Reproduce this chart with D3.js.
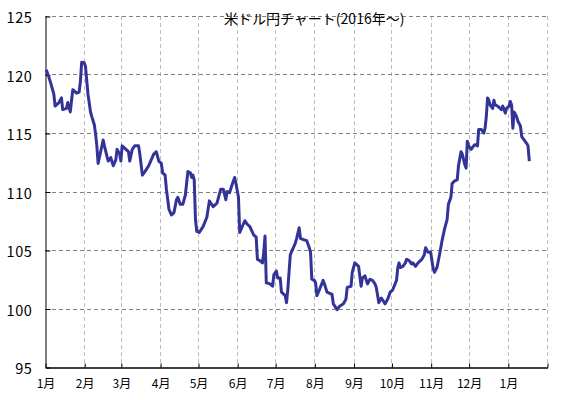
<!DOCTYPE html>
<html>
<head>
<meta charset="utf-8">
<script src="https://cdn.jsdelivr.net/npm/d3@7"></script>
<style>
  html, body { margin: 0; padding: 0; background: #fff; }
  svg { display: block; }
  text { font-family: "Noto Sans CJK JP", "DejaVu Sans", sans-serif; fill: #000; }
</style>
</head>
<body>
<svg id="chart" width="567" height="400"></svg>
<script>
// ---- data ----
const title = "米ドル円チャート(2016年～)";
const dates = [
  "2016-01-02","2016-01-04","2016-01-06","2016-01-08","2016-01-09","2016-01-12","2016-01-14","2016-01-15","2016-01-18","2016-01-19",
  "2016-01-21","2016-01-22","2016-01-23","2016-01-26","2016-01-28","2016-01-29","2016-01-30","2016-02-01","2016-02-02","2016-02-03",
  "2016-02-04","2016-02-06","2016-02-07","2016-02-09","2016-02-10","2016-02-11","2016-02-12","2016-02-14","2016-02-16","2016-02-17",
  "2016-02-19","2016-02-20","2016-02-22","2016-02-24","2016-02-26","2016-02-27","2016-02-29","2016-03-01","2016-03-02","2016-03-05",
  "2016-03-07","2016-03-08","2016-03-10","2016-03-12","2016-03-15","2016-03-16","2016-03-18","2016-03-20","2016-03-23","2016-03-25",
  "2016-03-27","2016-03-29","2016-03-31","2016-04-02","2016-04-03","2016-04-05","2016-04-06","2016-04-08","2016-04-10","2016-04-12",
  "2016-04-14","2016-04-15","2016-04-17","2016-04-19","2016-04-21","2016-04-23","2016-04-25","2016-04-26","2016-04-27","2016-04-28",
  "2016-04-29","2016-04-30","2016-05-02","2016-05-05","2016-05-08","2016-05-10","2016-05-13","2016-05-16","2016-05-19","2016-05-21",
  "2016-05-23","2016-05-24","2016-05-26","2016-05-28","2016-05-30","2016-05-31","2016-06-02","2016-06-03","2016-06-07","2016-06-09",
  "2016-06-11","2016-06-14","2016-06-16","2016-06-17","2016-06-19","2016-06-21","2016-06-22","2016-06-23","2016-06-24","2016-06-27",
  "2016-06-29","2016-06-30","2016-07-02","2016-07-03","2016-07-05","2016-07-06","2016-07-09","2016-07-10","2016-07-11","2016-07-13",
  "2016-07-15","2016-07-17","2016-07-18","2016-07-20","2016-07-21","2016-07-23","2016-07-26","2016-07-28","2016-07-29","2016-07-30",
  "2016-08-01","2016-08-02","2016-08-03","2016-08-05","2016-08-08","2016-08-09","2016-08-11","2016-08-15","2016-08-16","2016-08-19",
  "2016-08-21","2016-08-24","2016-08-26","2016-08-27","2016-08-30","2016-08-31","2016-09-02","2016-09-05","2016-09-07","2016-09-08",
  "2016-09-10","2016-09-12","2016-09-14","2016-09-16","2016-09-18","2016-09-19","2016-09-21","2016-09-23","2016-09-26","2016-09-28",
  "2016-09-30","2016-10-02","2016-10-05","2016-10-06","2016-10-07","2016-10-08","2016-10-10","2016-10-12","2016-10-13","2016-10-15",
  "2016-10-17","2016-10-18","2016-10-20","2016-10-22","2016-10-25","2016-10-27","2016-10-28","2016-10-30","2016-11-01","2016-11-03",
  "2016-11-04","2016-11-06","2016-11-08","2016-11-10","2016-11-12","2016-11-14","2016-11-15","2016-11-17","2016-11-18","2016-11-20",
  "2016-11-22","2016-11-23","2016-11-25","2016-11-26","2016-11-28","2016-11-29","2016-11-30","2016-12-01","2016-12-03","2016-12-05",
  "2016-12-06","2016-12-08","2016-12-09","2016-12-11","2016-12-13","2016-12-14","2016-12-15","2016-12-16","2016-12-17","2016-12-18",
  "2016-12-20","2016-12-21","2016-12-22","2016-12-24","2016-12-27","2016-12-28","2016-12-30","2016-12-31","2017-01-02","2017-01-03",
  "2017-01-04","2017-01-05","2017-01-06","2017-01-08","2017-01-09","2017-01-11","2017-01-12","2017-01-14","2017-01-16","2017-01-17",
  "2017-01-18"
];
const rates = [
  120.4,119.8,119.1,118.3,117.3,117.6,118.0,117.0,117.1,117.6,
  116.8,117.8,118.7,118.4,118.5,119.4,121.05,121.0,120.7,119.5,
  118.3,116.8,116.4,115.7,114.9,113.9,112.4,113.4,114.4,113.9,
  113.0,112.6,112.9,112.2,112.7,113.6,113.2,112.6,113.9,113.6,
  113.4,112.6,113.6,113.9,113.9,113.2,111.4,111.7,112.2,112.7,
  113.2,113.4,112.6,112.4,111.6,111.4,110.2,108.5,108.0,108.2,
  109.3,109.5,108.9,108.9,109.7,111.7,111.6,111.2,111.4,111.0,
  107.6,106.6,106.5,107.0,107.8,109.2,108.7,109.0,110.2,110.2,
  109.3,110.0,109.9,110.6,111.2,110.7,109.5,106.5,107.5,107.2,
  107.0,106.3,106.1,104.2,104.1,103.9,104.8,106.2,102.2,102.1,
  101.9,102.9,103.2,102.6,102.6,101.4,101.1,100.5,101.6,104.6,
  105.1,105.6,106.0,106.9,106.0,105.9,105.8,105.2,104.8,102.5,
  102.4,102.2,101.1,101.6,102.4,102.1,101.4,101.2,100.4,99.9,
  100.2,100.4,100.8,101.8,101.9,103.1,103.9,103.6,101.9,102.6,
  102.8,102.1,102.5,102.4,102.1,101.8,100.5,100.9,100.4,100.8,
  101.4,101.6,102.4,103.5,103.9,103.5,103.6,103.9,104.2,104.1,
  103.8,103.9,103.6,103.9,104.2,104.6,105.2,104.8,104.8,103.4,
  103.1,103.5,104.6,105.8,106.8,107.6,108.9,109.5,110.7,110.9,
  111.0,112.2,113.4,113.2,112.3,112.0,114.3,113.9,113.6,113.9,
  114.0,113.9,115.3,115.3,115.0,115.4,116.4,118.0,117.8,117.4,
  117.1,117.8,117.4,117.3,117.0,117.3,116.7,117.1,117.3,117.7,
  117.4,115.4,116.8,116.4,116.0,115.6,114.7,114.4,114.1,113.9,
  112.6
];
const yTicks = [95, 100, 105, 110, 115, 120, 125];
const monthTicks = ["2016-01-01","2016-02-01","2016-03-01","2016-04-01","2016-05-01","2016-06-01","2016-07-01",
  "2016-08-01","2016-09-01","2016-10-01","2016-11-01","2016-12-01","2017-01-01","2017-02-01"];
const monthLabels = ["1月","2月","3月","4月","5月","6月","7月","8月","9月","10月","11月","12月","1月",""];

// ---- chart ----
const parse = d3.timeParse("%Y-%m-%d");
const data = dates.map((d, i) => ({ date: parse(d), v: rates[i] }));
const ticks = monthTicks.map(parse);

const svg = d3.select("#chart");
const mLeft = 45, mRight = 547, mTop = 16, mBottom = 367;

const x = d3.scaleTime().domain([ticks[0], ticks[ticks.length - 1]]).range([mLeft, mRight]);
const y = d3.scaleLinear().domain([95, 125]).range([mBottom, mTop]);
const px = v => Math.round(v) + 0.5;

// vertical grid
svg.append("g").selectAll("line").data(ticks.slice(1)).join("line")
  .attr("x1", d => px(x(d))).attr("x2", d => px(x(d)))
  .attr("y1", mTop).attr("y2", mBottom)
  .attr("stroke", "#bdbdbd").attr("stroke-width", 1).attr("stroke-dasharray", "4,3");

// horizontal grid
svg.append("g").selectAll("line").data(yTicks.filter(t => t > 95)).join("line")
  .attr("x1", mLeft).attr("x2", mRight)
  .attr("y1", d => px(y(d))).attr("y2", d => px(y(d)))
  .attr("stroke", "#808080").attr("stroke-width", 1).attr("stroke-dasharray", "4,3");

// y axis
const yAxis = d3.axisLeft(y).tickValues(yTicks).tickSize(-5).tickPadding(13).tickSizeOuter(0);
const gy = svg.append("g").attr("transform", `translate(${mLeft + 0.5},0.5)`).call(yAxis);
gy.select(".domain").attr("stroke", "#000");
gy.selectAll(".tick line").attr("stroke", "#000");
gy.selectAll(".tick text").attr("font-size", 14.5).attr("letter-spacing", "0.6px")
  .attr("font-family", "'Noto Sans CJK JP', sans-serif").attr("dy", "0.42em");

// x axis
const xAxis = d3.axisBottom(x).tickValues(ticks).tickFormat((d, i) => monthLabels[i])
  .tickSize(-4).tickPadding(12).tickSizeOuter(0);
const gx = svg.append("g").attr("transform", `translate(0.5,${mBottom + 0.5})`).call(xAxis);
gx.select(".domain").attr("stroke", "#000").attr("stroke-width", 1.5);
gx.selectAll(".tick line").attr("stroke", "#000");
gx.selectAll(".tick text").attr("font-size", 12)
  .attr("font-family", "'Noto Sans CJK JP', sans-serif");

// line
const line = d3.line().x(d => x(d.date)).y(d => y(d.v));
svg.append("path").datum(data)
  .attr("d", line)
  .attr("fill", "none")
  .attr("stroke", "#333399")
  .attr("stroke-width", 3)
  .attr("stroke-linejoin", "round");

// title
svg.append("text").attr("x", 224).attr("y", 24)
  .attr("font-size", 14).attr("font-weight", "normal")
  .text(title);
</script>
</body>
</html>
